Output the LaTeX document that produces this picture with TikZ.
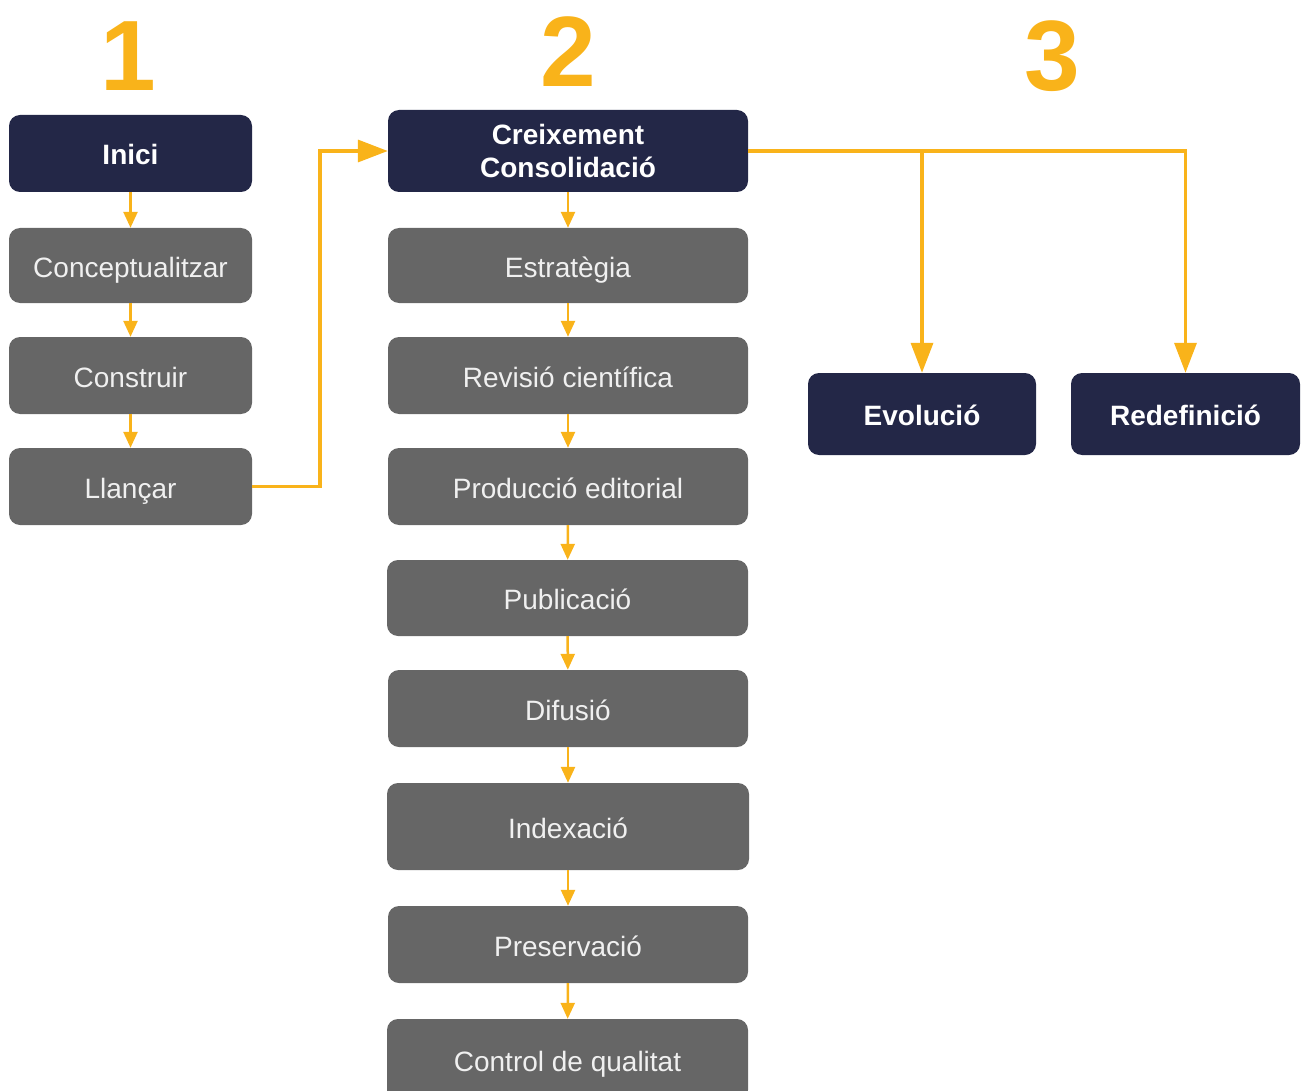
\documentclass[tikz,border=0pt]{standalone}
\usepackage{fontspec}
\setmainfont{Liberation Sans}
\usetikzlibrary{arrows.meta}
\definecolor{navy}{HTML}{232747}
\definecolor{boxgray}{HTML}{666666}
\definecolor{orng}{HTML}{F9B31A}
\tikzset{
  base/.style={rounded corners=11pt, inner sep=0pt, align=center, text=white,
    font=\fontsize{28}{33}\selectfont},
  oneline/.style={text height=23pt, text depth=0pt},
  darkbox/.style={base, fill=navy, font=\fontsize{28}{33}\selectfont\bfseries},
  darkone/.style={darkbox, oneline},
  graybox/.style={base, oneline, fill=boxgray, text=white!94!black},
  smallarr/.style={draw=orng, line width=2.5pt, -{Triangle[width=14pt,length=16pt]}},
  bigarr/.style={draw=orng, line width=3.5pt, -{Triangle[width=22pt,length=30pt]}},
  num/.style={text=orng, font=\fontsize{100}{100}\selectfont\bfseries, inner sep=0pt}
}
\begin{document}
\begin{tikzpicture}[x=1pt,y=-1pt]
\useasboundingbox (0,0) rectangle (1306,1091);
% numbers
\node[num] (n1) at (128,56) {1};
\node[num] (n2) at (568,52) {2};
\node[num] (n3) at (1052,56) {3};
% column 1
\node[darkone, minimum width=243pt, minimum height=77pt] (inici) at (130.5,153.5) {Inici};
\node[graybox, minimum width=243pt, minimum height=75pt] (conc) at (130.5,265.5) {Conceptualitzar};
\node[graybox, minimum width=243pt, minimum height=77pt] (cons) at (130.5,375.5) {Construir};
\node[graybox, minimum width=243pt, minimum height=77pt] (llan) at (130.5,486.5) {Llançar};
% column 2
\node[darkbox, minimum width=360pt, minimum height=82pt] (creix) at (568,151) {Creixement\\Consolidació};
\node[graybox, minimum width=360pt, minimum height=75pt] (estr) at (568,265.5) {Estratègia};
\node[graybox, minimum width=360pt, minimum height=77pt] (rev) at (568,375.5) {Revisió científica};
\node[graybox, minimum width=360pt, minimum height=77pt] (prod) at (568,486.5) {Producció editorial};
\node[graybox, minimum width=361pt, minimum height=76pt] (publ) at (567.5,598) {Publicació};
\node[graybox, minimum width=360pt, minimum height=77pt] (dif) at (568,708.5) {Difusió};
\node[graybox, minimum width=362pt, minimum height=87pt] (idx) at (568,826.5) {Indexació};
\node[graybox, minimum width=360pt, minimum height=77pt] (pres) at (568,944.5) {Preservació};
\node[graybox, minimum width=361pt, minimum height=82pt] (ctrl) at (567.5,1060) {Control de qualitat};
% column 3
\node[darkone, minimum width=228pt, minimum height=82pt] (evol) at (922,414) {Evolució};
\node[darkone, minimum width=229pt, minimum height=82pt] (redef) at (1185.5,414) {Redefinició};
% small arrows
\draw[smallarr] (inici) -- (conc);
\draw[smallarr] (conc) -- (cons);
\draw[smallarr] (cons) -- (llan);
\draw[smallarr] (creix) -- (estr);
\draw[smallarr] (estr) -- (rev);
\draw[smallarr] (rev) -- (prod);
\draw[smallarr] (prod) -- (publ);
\draw[smallarr] (publ) -- (dif);
\draw[smallarr] (dif) -- (idx);
\draw[smallarr] (idx) -- (pres);
\draw[smallarr] (pres) -- (ctrl);
% big connectors
\coordinate (j1) at (320,486.5);
\draw[bigarr] (llan.east) -- (j1) |- (creix.west);
\draw[bigarr] (creix.east) -| (evol.north);
\draw[bigarr] (creix.east) -| (redef.north);
\end{tikzpicture}
\end{document}
